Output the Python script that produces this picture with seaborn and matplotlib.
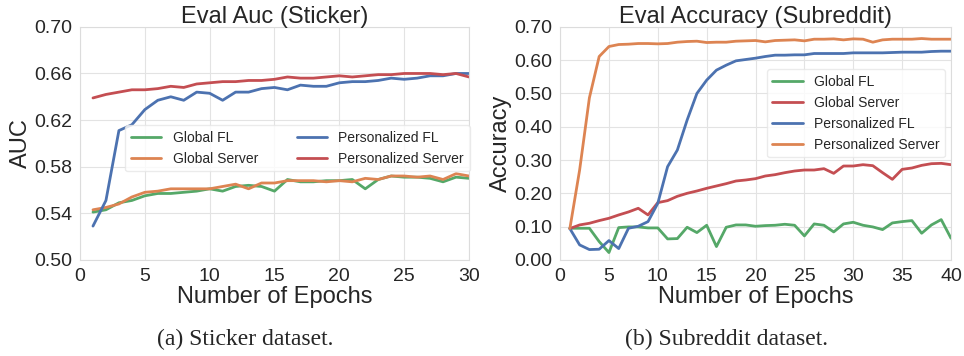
import matplotlib
matplotlib.use("Agg")
import matplotlib.pyplot as plt
import pandas as pd
import seaborn as sns

# sticker dataset, eval AUC per epoch (1..30)
sticker_epochs = list(range(1, 31))
sticker_global_fl = [0.541, 0.543, 0.549, 0.551, 0.555, 0.557, 0.557, 0.558, 0.559, 0.561,
                     0.559, 0.563, 0.564, 0.563, 0.559, 0.569, 0.567, 0.567, 0.568, 0.568,
                     0.569, 0.561, 0.569, 0.572, 0.571, 0.571, 0.570, 0.567, 0.571, 0.570]
sticker_global_server = [0.543, 0.545, 0.548, 0.554, 0.558, 0.559, 0.561, 0.561, 0.561, 0.561,
                         0.563, 0.565, 0.561, 0.566, 0.566, 0.568, 0.568, 0.568, 0.567, 0.568,
                         0.567, 0.570, 0.569, 0.572, 0.572, 0.571, 0.572, 0.569, 0.574, 0.572]
sticker_pers_fl = [0.529, 0.551, 0.611, 0.616, 0.629, 0.637, 0.640, 0.637, 0.644, 0.643,
                   0.637, 0.644, 0.644, 0.647, 0.648, 0.646, 0.650, 0.649, 0.649, 0.652,
                   0.653, 0.653, 0.654, 0.656, 0.655, 0.656, 0.658, 0.658, 0.660, 0.660]
sticker_pers_server = [0.639, 0.642, 0.644, 0.646, 0.646, 0.647, 0.649, 0.648, 0.651, 0.652,
                       0.653, 0.653, 0.654, 0.654, 0.655, 0.657, 0.656, 0.656, 0.657, 0.658,
                       0.657, 0.658, 0.659, 0.659, 0.660, 0.660, 0.660, 0.659, 0.660, 0.657]

# subreddit dataset, eval accuracy per epoch (1..40)
reddit_epochs = list(range(1, 41))
reddit_global_fl = [0.095, 0.095, 0.095, 0.055, 0.022, 0.097, 0.099, 0.099, 0.096, 0.096,
                    0.063, 0.064, 0.098, 0.082, 0.104, 0.040, 0.098, 0.105, 0.105, 0.101,
                    0.103, 0.104, 0.107, 0.104, 0.072, 0.108, 0.104, 0.084, 0.108, 0.113,
                    0.104, 0.099, 0.091, 0.111, 0.115, 0.118, 0.080, 0.105, 0.121, 0.065]
reddit_global_server = [0.094, 0.105, 0.110, 0.118, 0.125, 0.135, 0.144, 0.155, 0.135, 0.172,
                        0.178, 0.191, 0.200, 0.207, 0.215, 0.222, 0.229, 0.237, 0.240, 0.244,
                        0.252, 0.256, 0.262, 0.267, 0.270, 0.270, 0.274, 0.260, 0.282, 0.282,
                        0.286, 0.283, 0.262, 0.242, 0.272, 0.276, 0.284, 0.289, 0.290, 0.286]
reddit_pers_fl = [0.094, 0.045, 0.031, 0.032, 0.058, 0.034, 0.095, 0.101, 0.115, 0.170,
                  0.280, 0.330, 0.420, 0.500, 0.540, 0.570, 0.585, 0.598, 0.602, 0.606,
                  0.611, 0.615, 0.615, 0.616, 0.616, 0.620, 0.620, 0.620, 0.620, 0.622,
                  0.622, 0.622, 0.622, 0.623, 0.624, 0.624, 0.624, 0.626, 0.627, 0.627]
reddit_pers_server = [0.094, 0.270, 0.487, 0.611, 0.641, 0.647, 0.648, 0.650, 0.650, 0.649,
                      0.650, 0.654, 0.656, 0.657, 0.653, 0.654, 0.654, 0.657, 0.658, 0.659,
                      0.655, 0.659, 0.660, 0.661, 0.658, 0.663, 0.663, 0.664, 0.661, 0.664,
                      0.663, 0.654, 0.661, 0.663, 0.663, 0.663, 0.665, 0.663, 0.663, 0.663]

methods = ["Global FL", "Global Server", "Personalized FL", "Personalized Server"]

sns.set_style("whitegrid", {"grid.color": "#e3e3e3", "axes.edgecolor": "#dcdcdc"})
plt.rcParams["font.family"] = ["Liberation Sans", "DejaVu Sans"]

deep = sns.color_palette("deep")
blue, orange, green, red = deep[0], deep[1], deep[2], deep[3]
pal_sticker = {"Global FL": green, "Global Server": orange,
               "Personalized FL": blue, "Personalized Server": red}
pal_reddit = {"Global FL": green, "Global Server": red,
              "Personalized FL": blue, "Personalized Server": orange}


def to_long(epochs, series):
    frames = []
    for name, vals in zip(methods, series):
        frames.append(pd.DataFrame({"Epoch": epochs, "Value": vals, "Method": name}))
    return pd.concat(frames, ignore_index=True)


df_sticker = to_long(sticker_epochs, [sticker_global_fl, sticker_global_server,
                                      sticker_pers_fl, sticker_pers_server])
df_reddit = to_long(reddit_epochs, [reddit_global_fl, reddit_global_server,
                                    reddit_pers_fl, reddit_pers_server])

fig = plt.figure(figsize=(9.64, 3.56), dpi=100)
ax1 = fig.add_axes([0.083, 0.27, 0.4035, 0.6545])
ax2 = fig.add_axes([0.581, 0.27, 0.4055, 0.6545])

#1) sticker
sns.lineplot(data=df_sticker, x="Epoch", y="Value", hue="Method", hue_order=methods,
             palette=pal_sticker, linewidth=2, ax=ax1)
ax1.set_xlim(0, 30)
ax1.set_ylim(0.50, 0.70)
ax1.set_yticks([0.50, 0.54, 0.58, 0.62, 0.66, 0.70])
ax1.set_yticklabels([f"{v:.2f}" for v in [0.50, 0.54, 0.58, 0.62, 0.66, 0.70]])
ax1.set_xticks([0, 5, 10, 15, 20, 25, 30])
ax1.set_title("Eval Auc (Sticker)", fontsize=17, pad=3)
ax1.set_xlabel("Number of Epochs", fontsize=17, labelpad=1)
ax1.set_ylabel("AUC", fontsize=17, labelpad=2)
ax1.tick_params(labelsize=14, pad=2)
ax1.legend(ncol=2, loc="center", bbox_to_anchor=(0.559, 0.479), fontsize=10,
           frameon=True, edgecolor="#e6e6e6", columnspacing=2.8, handlelength=2.2)

#2) subreddit
sns.lineplot(data=df_reddit, x="Epoch", y="Value", hue="Method", hue_order=methods,
             palette=pal_reddit, linewidth=2, ax=ax2)
ax2.set_xlim(0, 40)
ax2.set_ylim(0.0, 0.70)
ax2.set_yticks([0.0, 0.1, 0.2, 0.3, 0.4, 0.5, 0.6, 0.7])
ax2.set_yticklabels([f"{v:.2f}" for v in [0.0, 0.1, 0.2, 0.3, 0.4, 0.5, 0.6, 0.7]])
ax2.set_xticks([0, 5, 10, 15, 20, 25, 30, 35, 40])
ax2.set_title("Eval Accuracy (Subreddit)", fontsize=17, pad=3)
ax2.set_xlabel("Number of Epochs", fontsize=17, labelpad=1)
ax2.set_ylabel("Accuracy", fontsize=17, labelpad=2)
ax2.tick_params(labelsize=14, pad=2)
ax2.legend(loc="center", bbox_to_anchor=(0.757, 0.629), fontsize=10,
           frameon=True, edgecolor="#e6e6e6", handlelength=2.2)

# subfigure captions
fig.text(0.254, 0.03, "(a) Sticker dataset.", ha="center", fontsize=17,
         family=["Liberation Serif", "DejaVu Serif"])
fig.text(0.754, 0.03, "(b) Subreddit dataset.", ha="center", fontsize=17,
         family=["Liberation Serif", "DejaVu Serif"])

fig.savefig("out.png", dpi=100)
